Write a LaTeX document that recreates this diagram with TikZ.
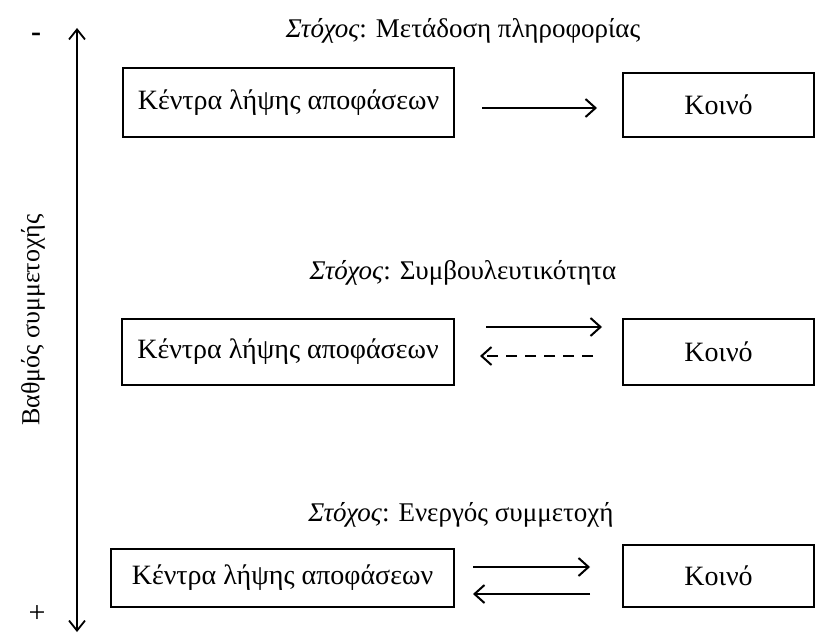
\documentclass[tikz,border=0pt]{standalone}
\usepackage{fontspec}
\setmainfont{Liberation Serif}
\usetikzlibrary{arrows.meta}
\begin{document}
\begin{tikzpicture}[x=1pt,y=-1pt,
  box/.style={draw, line width=2pt, inner sep=0pt, font=\fontsize{28}{32}\selectfont},
  ttl/.style={inner sep=0pt, font=\fontsize{27}{31}\selectfont},
  arr/.style={line width=2.2pt, -{Straight Barb[length=10pt,width=18pt,line width=2pt]}},
  sym/.style={inner sep=0pt, font=\fontsize{30}{34}\selectfont}]
\useasboundingbox (0,0) rectangle (819,634);
\fill[white] (0,0) rectangle (819,634);
% axis
\coordinate (axtop) at (77,28);
\coordinate (axbot) at (77,632);
\draw[line width=1.8pt, {Straight Barb[length=10pt,width=16pt,line width=1.8pt]}-{Straight Barb[length=10pt,width=16pt,line width=1.8pt]}] (axbot) -- (axtop);
\node[sym] (minus) at (36,37) {\textbf{-}};
\node[sym] (plus) at (37,614) {+};
\node[ttl, font=\fontsize{26}{30}\selectfont, rotate=90] (axlab) at (33,320) {Βαθμός συμμετοχής};
% level 1
\node[ttl] (t1) at (463,31) {\textit{Στόχος}: Μετάδοση πληροφορίας};
\node[box, minimum width=331pt, minimum height=69pt] (l1) at (288.5,102.5) {Κέντρα λήψης αποφάσεων};
\node[box, minimum width=191pt, minimum height=64pt] (r1) at (718.5,105) {Κοινό};
\draw[arr, shorten <=27pt, shorten >=25pt] ([yshift=-5.5pt]l1.east) -- ([yshift=-3pt]r1.west);
% level 2
\node[ttl] (t2) at (463,273) {\textit{Στόχος}: Συμβουλευτικότητα};
\node[box, minimum width=332pt, minimum height=66pt] (l2) at (288,352) {Κέντρα λήψης αποφάσεων};
\node[box, minimum width=191pt, minimum height=66pt] (r2) at (718.5,352) {Κοινό};
\draw[arr, shorten <=31pt, shorten >=20pt] ([yshift=25pt]l2.east) -- ([yshift=25pt]r2.west);
\draw[arr, dash pattern=on 11pt off 8pt, shorten <=29pt, shorten >=25pt] ([yshift=-4pt]r2.west) -- ([yshift=-4pt]l2.east);
% level 3
\node[ttl] (t3) at (461,515) {\textit{Στόχος}: Ενεργός συμμετοχή};
\node[box, minimum width=343pt, minimum height=58pt] (l3) at (282.5,578) {Κέντρα λήψης αποφάσεων};
\node[box, minimum width=191pt, minimum height=62pt] (r3) at (718.5,576) {Κοινό};
\draw[arr, shorten <=18pt, shorten >=32pt] ([yshift=11pt]l3.east) -- ([yshift=9pt]r3.west);
\draw[arr, shorten <=32pt, shorten >=18pt] ([yshift=-18pt]r3.west) -- ([yshift=-16pt]l3.east);
\end{tikzpicture}
\end{document}
